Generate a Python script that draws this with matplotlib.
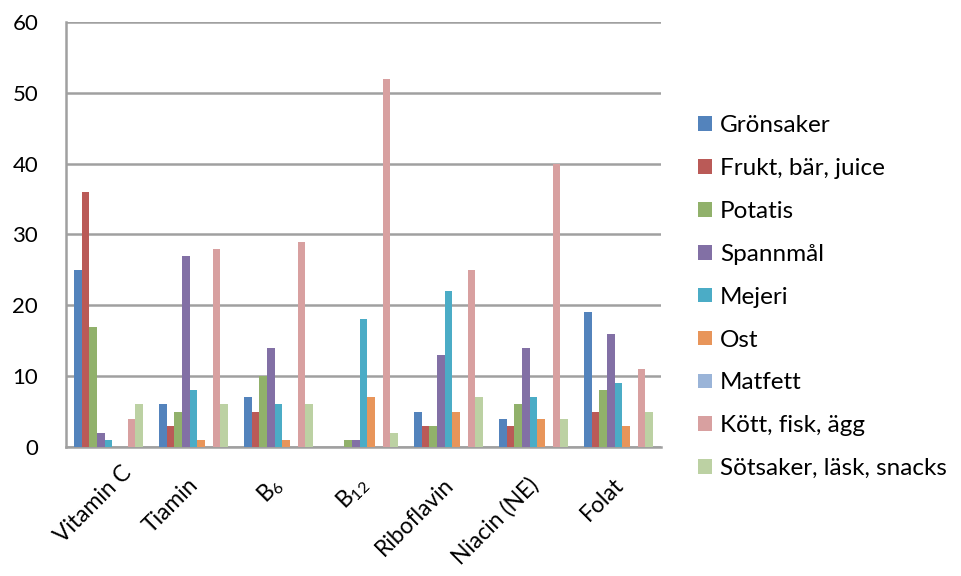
import numpy as np
import matplotlib
matplotlib.use("Agg")
import matplotlib.pyplot as plt
from matplotlib.transforms import ScaledTranslation

plt.rcParams["font.family"] = ["Lato", "DejaVu Sans"]
plt.rcParams["mathtext.fontset"] = "custom"
plt.rcParams["mathtext.rm"] = "Lato"
plt.rcParams["mathtext.it"] = "Lato"

categories = ["Vitamin C", "Tiamin", "B$_6$", "B$_{12}$", "Riboflavin", "Niacin (NE)", "Folat"]
series = ["Grönsaker", "Frukt, bär, juice", "Potatis", "Spannmål", "Mejeri",
          "Ost", "Matfett", "Kött, fisk, ägg", "Sötsaker, läsk, snacks"]

gronsaker = [25, 6, 7, 0, 5, 4, 19]
frukt = [36, 3, 5, 0, 3, 3, 5]
potatis = [17, 5, 10, 1, 3, 6, 8]
spannmal = [2, 27, 14, 1, 13, 14, 16]
mejeri = [1, 8, 6, 18, 22, 7, 9]
ost = [0, 1, 1, 7, 5, 4, 3]
matfett = [0, 0, 0, 0, 0, 0, 0]
kott = [4, 28, 29, 52, 25, 40, 11]
sotsaker = [6, 6, 6, 2, 7, 4, 5]

values = [gronsaker, frukt, potatis, spannmal, mejeri, ost, matfett, kott, sotsaker]
colors = ["#5383BC", "#BA5A57", "#91B16B", "#8270A5", "#4BACC6",
          "#E8955A", "#9AB4D8", "#D8A0A0", "#BCD1A3"]

fig = plt.figure(figsize=(9.62, 5.76), dpi=100)
ax = fig.add_axes([0.0686, 0.224, 0.6185, 0.738])

x = np.arange(len(categories))
n = len(series)
group = 0.81
w = group / n
for i, (name, vals) in enumerate(zip(series, values)):
    ax.bar(x - group / 2 + w * (i + 0.5), vals, width=w * 0.97, color=colors[i],
           label=name, zorder=3)

ax.set_xlim(-0.5, len(categories) - 0.5)
ax.set_ylim(0, 60)
ax.set_yticks(range(0, 61, 10))
ax.yaxis.grid(True, color="#A0A0A0", linewidth=1.8, zorder=0)
ax.set_axisbelow(True)
for s in ["top", "right"]:
    ax.spines[s].set_visible(False)
for s in ["left", "bottom"]:
    ax.spines[s].set_color("#A0A0A0")
    ax.spines[s].set_linewidth(1.8)
ax.tick_params(axis="y", length=0, labelsize=16, pad=20)
ax.tick_params(axis="x", length=0, pad=28)
ax.set_xticks(x)
ax.set_xticklabels(categories, rotation=45, ha="right", va="baseline",
                   rotation_mode="anchor", fontsize=16.5)
for i, lab in enumerate(ax.get_xticklabels()):
    dx = 24 if i == 0 else 6
    dy = 12 if i == 0 else 0
    lab.set_transform(lab.get_transform() + ScaledTranslation(dx / 100, dy / 100, fig.dpi_scale_trans))

fig.legend(loc="center left", bbox_to_anchor=(0.703, 0.484), frameon=False,
           fontsize=17.5, handlelength=0.55, handleheight=0.55, handletextpad=0.35,
           labelspacing=0.9)

fig.savefig("out.png", dpi=100)
